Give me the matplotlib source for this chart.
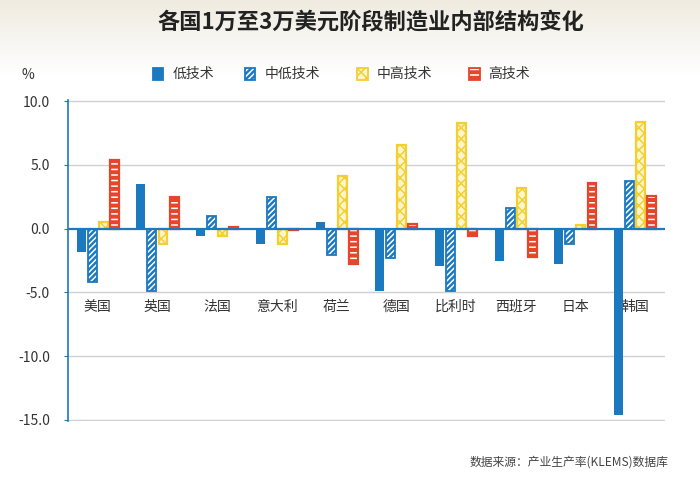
import numpy as np
import matplotlib.pyplot as plt
from matplotlib.colors import LinearSegmentedColormap

plt.rcParams['font.family'] = ['Noto Sans CJK SC', 'DejaVu Sans']
plt.rcParams['hatch.linewidth'] = 1.1

countries = ["美国", "英国", "法国", "意大利", "荷兰", "德国", "比利时", "西班牙", "日本", "韩国"]
low_tech = [-1.8, 3.5, -0.6, -1.2, 0.5, -4.9, -2.9, -2.5, -2.8, -14.6]
mid_low_tech = [-4.2, -4.9, 1.0, 2.5, -2.1, -2.3, -4.9, 1.6, -1.2, 3.7]
mid_high_tech = [0.5, -1.2, -0.6, -1.2, 4.1, 6.6, 8.3, 3.2, 0.3, 8.4]
high_tech = [5.4, 2.5, 0.15, -0.1, -2.8, 0.4, -0.6, -2.2, 3.6, 2.6]
series_names = ["低技术", "中低技术", "中高技术", "高技术"]
yticks = [10, 5, 0, -5, -10, -15]

blue = "#1b79c0"
yellow = "#f3cf30"
pale = "#fdf5cc"
red = "#e5452b"

fig = plt.figure(figsize=(7, 4.78), dpi=100)
fig.patch.set_facecolor("white")

# beige band behind the title
bg = fig.add_axes([0, 0.84, 1, 0.16], zorder=-5)
grad = np.linspace(0, 1, 50).reshape(-1, 1)
bg.imshow(grad, aspect="auto", cmap=LinearSegmentedColormap.from_list("b", ["#efebe0", "#ffffff"]),
          extent=[0, 1, 0, 1])
bg.axis("off")

ax = fig.add_axes([0.097, 0.119, 0.853, 0.672])
x = np.arange(len(countries))
w = 0.15
step = 0.185

# low tech: solid blue
ax.bar(x - 1.5 * step, low_tech, w, color=blue, lw=0, zorder=3)
# mid-low: blue with white diagonal stripes
ax.bar(x - 0.5 * step, mid_low_tech, w, color=blue, edgecolor="white", hatch="//////", lw=0, zorder=3)
ax.bar(x - 0.5 * step, mid_low_tech, w, fill=False, edgecolor=blue, lw=1.3, zorder=4)
# mid-high: yellow lattice on pale fill
ax.bar(x + 0.5 * step, mid_high_tech, w, color=pale, edgecolor=yellow, hatch="xxx", lw=0, zorder=3)
ax.bar(x + 0.5 * step, mid_high_tech, w, fill=False, edgecolor=yellow, lw=1.6, zorder=4)
# high: red with white horizontal stripes
ax.bar(x + 1.5 * step, high_tech, w, color=red, edgecolor="white", hatch="---", lw=0, zorder=3)
ax.bar(x + 1.5 * step, high_tech, w, fill=False, edgecolor=red, lw=1.6, zorder=4)

ax.set_xlim(-0.5, 9.5)
ax.set_ylim(-15.1, 10.1)
ax.set_yticks(yticks)
ax.set_yticklabels(["%.1f" % v for v in yticks], fontsize=10, color="#333333")
ax.set_xticks([])
for v in yticks:
    if v != 0:
        ax.axhline(v, color="#d0d0d0", lw=1, zorder=1)
ax.axhline(0, color=blue, lw=1.6, zorder=5)
for s in ["top", "right", "bottom"]:
    ax.spines[s].set_visible(False)
ax.spines["left"].set_color(blue)
ax.spines["left"].set_linewidth(1.2)
ax.tick_params(axis="y", length=3, color=blue, pad=10)

for i, c in enumerate(countries):
    ax.text(i, -6.0, c, ha="center", va="center_baseline", fontsize=10, color="#333333", zorder=6)

fig.text(0.04, 0.843, "%", fontsize=10, color="#333333", ha="center", va="center")

# legend
leg_x = [0.218, 0.35, 0.51, 0.67]
styles = [(blue, blue, None), (blue, "white", "//////"), (pale, yellow, "xxx"), (red, "white", "---")]
borders = [blue, blue, yellow, red]
for lx, name, (fc, hc, h), bc in zip(leg_x, series_names, styles, borders):
    r = plt.Rectangle((lx, 0.833), 0.015, 0.024, transform=fig.transFigure,
                      facecolor=fc, edgecolor=hc, hatch=h, lw=0)
    fig.patches.append(r)
    fig.patches.append(plt.Rectangle((lx, 0.833), 0.015, 0.024, transform=fig.transFigure,
                                     fill=False, edgecolor=bc, lw=1.3))
    fig.text(lx + 0.028, 0.845, name, fontsize=10, color="#333333", va="center")

fig.text(0.53, 0.955, "各国1万至3万美元阶段制造业内部结构变化", fontsize=16,
         fontweight="bold", color="#222222", ha="center", va="center")
fig.text(0.955, 0.033, "数据来源：产业生产率(KLEMS)数据库", fontsize=8.5,
         color="#444444", ha="right", va="center")

fig.savefig("out.png", dpi=100)
